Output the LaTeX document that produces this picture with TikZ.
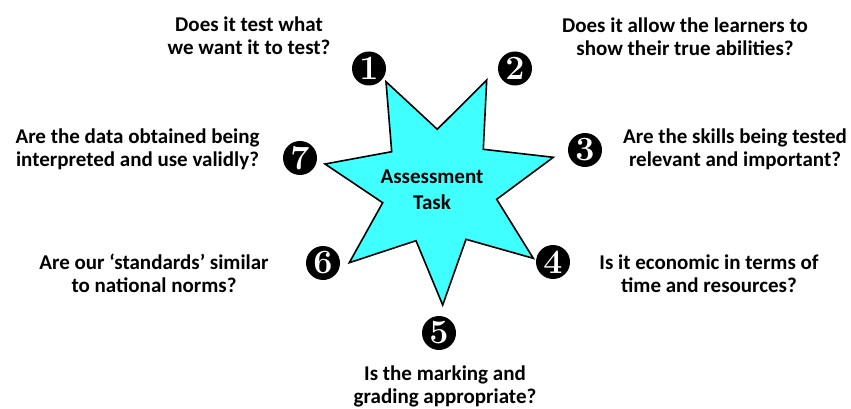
\documentclass[tikz,border=0pt]{standalone}
\usepackage{fontspec}
\setmainfont{Carlito}
\newfontfamily\numfont{Latin Modern Roman}
\definecolor{starcyan}{RGB}{64,255,255}
\begin{document}
\begin{tikzpicture}[x=1pt,y=-1pt,
  question/.style={font=\bfseries\fontsize{21}{23}\selectfont, align=center, text=black, inner sep=0pt},
  numdot/.style={circle, fill=black, minimum size=34pt, inner sep=0pt, text=white, font=\numfont\bfseries\fontsize{34}{34}\selectfont},
  startext/.style={font=\bfseries\fontsize{21}{25.5}\selectfont, align=center, inner sep=0pt}]
\useasboundingbox (0,0) rectangle (851,409);
% star
\draw[line width=1.6pt, line join=miter, fill=starcyan]
  (386,81.7) coordinate (p1) -- (437.3,129.3) -- (486.7,80) coordinate (p2) -- (483.3,149.3)
  -- (553.3,157.3) coordinate (p3) -- (496.7,199.3) -- (533.3,258.3) coordinate (p4) -- (466,239.3)
  -- (442.7,305) coordinate (p5) -- (416,240.7) -- (349.3,262.7) coordinate (p6) -- (382.7,202.7)
  -- (325,164) coordinate (p7) -- (391.7,151.7) -- cycle;
\node[startext] (center) at (432,190) {Assessment\\Task};
% numbers
\node[numdot] (n1) at (369,68.5) {1};
\node[numdot] (n2) at (515,68.5) {2};
\node[numdot] (n3) at (585,150) {3};
\node[numdot] (n4) at (553,262) {4};
\node[numdot] (n5) at (439,333) {5};
\node[numdot] (n6) at (323,263) {6};
\node[numdot] (n7) at (300,158) {7};
% questions
\node[question] (q1) at (249,36) {Does it test what\\we want it to test?};
\node[question] (q2) at (685,37) {Does it allow the learners to\\show their true abilities?};
\node[question] (q3) at (735,149) {Are the skills being tested\\relevant and important?};
\node[question] (q4) at (709,274) {Is it economic in terms of\\time and resources?};
\node[question] (q5) at (445,386) {Is the marking and\\grading appropriate?};
\node[question] (q6) at (154,273) {Are our ‘standards’ similar\\to national norms?};
\node[question] (q7) at (137.5,149) {Are the data obtained being\\interpreted and use validly?};
\end{tikzpicture}
\end{document}
